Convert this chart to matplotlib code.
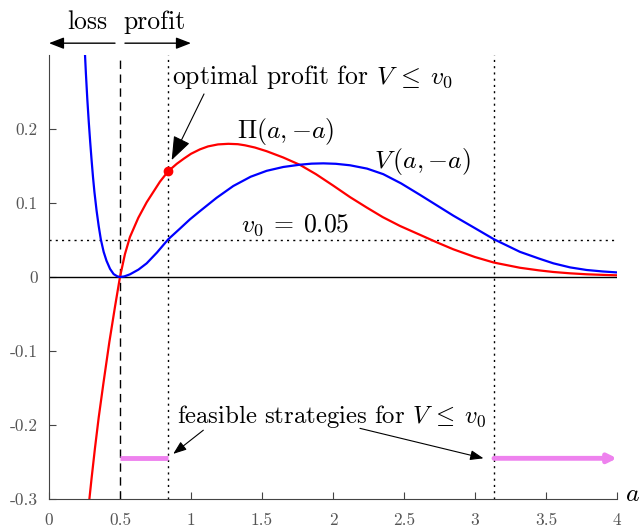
import numpy as np
import matplotlib
matplotlib.use("Agg")
import matplotlib.pyplot as plt

plt.rcParams['font.family'] = 'serif'
plt.rcParams['font.serif'] = ['cmr10', 'DejaVu Serif']
plt.rcParams['mathtext.fontset'] = 'cm'
plt.rcParams['axes.unicode_minus'] = False

# Pi(a,-a)
a_pi = [0.27, 0.284, 0.30, 0.324, 0.35, 0.383, 0.425, 0.465, 0.5, 0.535, 0.57, 0.629, 0.688,
        0.782, 0.84, 0.9, 0.95, 1.0, 1.063, 1.12, 1.19, 1.263, 1.33, 1.38, 1.45, 1.533,
        1.65, 1.768, 1.88, 2.002, 2.12, 2.237, 2.35, 2.472, 2.613, 2.73, 2.847, 3.0,
        3.134, 3.317, 3.45, 3.552, 3.67, 3.786, 3.9, 4.0]
pi_vals = [-0.328, -0.301, -0.272, -0.231, -0.19, -0.144, -0.088, -0.040, 0.0, 0.031, 0.054, 0.08, 0.101,
           0.129, 0.143, 0.153, 0.160, 0.1665, 0.1725, 0.1765, 0.1792, 0.180, 0.1795, 0.178, 0.175, 0.170,
           0.1615, 0.1515, 0.139, 0.1235, 0.108, 0.094, 0.081, 0.069, 0.057, 0.047, 0.0375, 0.027,
           0.0195, 0.0125, 0.009, 0.0068, 0.005, 0.0037, 0.0029, 0.0023]

# V(a,-a)
a_v = [0.245, 0.25, 0.26, 0.27, 0.28, 0.29, 0.30, 0.31, 0.32, 0.335, 0.35, 0.365, 0.385, 0.405,
       0.43, 0.455, 0.48, 0.5, 0.53, 0.57, 0.63, 0.688, 0.76, 0.84, 0.92, 0.993, 1.063, 1.18,
       1.298, 1.42, 1.533, 1.65, 1.768, 1.85, 1.932, 2.02, 2.12, 2.24, 2.354, 2.48, 2.613,
       2.73, 2.847, 3.0, 3.134, 3.317, 3.45, 3.552, 3.67, 3.786, 3.9, 4.0]
v_vals = [0.335, 0.315, 0.275, 0.24, 0.21, 0.183, 0.158, 0.135, 0.115, 0.09, 0.069, 0.051, 0.034, 0.022,
          0.011, 0.004, 0.001, 0.0, 0.0008, 0.0036, 0.010, 0.0185, 0.033, 0.051, 0.065, 0.078, 0.089, 0.107,
          0.123, 0.1355, 0.1435, 0.1487, 0.1518, 0.1532, 0.1536, 0.1530, 0.1510, 0.1465, 0.139, 0.1265, 0.111,
          0.097, 0.083, 0.066, 0.051, 0.034, 0.025, 0.0185, 0.013, 0.0095, 0.0075, 0.0062]

v0 = 0.05
a_break = 0.5      # loss / profit boundary
a_opt = 0.84       # V = v0 on the rising side
a_high = 3.134     # V = v0 on the falling side
pi_opt = 0.143
feas_y = -0.245

xticks = [0, 0.5, 1, 1.5, 2, 2.5, 3, 3.5, 4]
xlabels = ['0', '0.5', '1', '1.5', '2', '2.5', '3', '3.5', '4']
yticks = [-0.3, -0.2, -0.1, 0, 0.1, 0.2]
ylabels = ['-0.3', '-0.2', '-0.1', '0', '0.1', '0.2']

fig = plt.figure(figsize=(6.42, 5.27), dpi=100)
ax = fig.add_axes([0.0763, 0.0531, 0.8847, 0.8425])
ax.set_xlim(0, 4)
ax.set_ylim(-0.3, 0.3)

ax.axhline(0, color='black', lw=1)
ax.axhline(v0, color='black', lw=1, ls=(0, (1.5, 3)))
ax.axvline(a_break, color='black', lw=1, ls=(0, (6, 4)))
ax.axvline(a_opt, color='black', lw=1, ls=(0, (1.5, 3)))
ax.axvline(a_high, color='black', lw=1, ls=(0, (1.5, 3)))

ax.plot(a_pi, pi_vals, color='red', lw=1.6)
ax.plot(a_v, v_vals, color='blue', lw=1.6)
ax.plot([a_opt], [pi_opt], 'o', color='red', ms=6)

# feasible strategies
ax.plot([a_break, a_opt], [feas_y, feas_y], color='violet', lw=3.5, solid_capstyle='butt')
ax.annotate('', xy=(4.0, feas_y), xytext=(a_high, feas_y),
            arrowprops=dict(arrowstyle='-|>,head_length=0.5,head_width=0.25', color='violet',
                            lw=3.5, shrinkA=0, shrinkB=0))

ax.set_xticks(xticks)
ax.set_xticklabels(xlabels)
ax.set_yticks(yticks)
ax.set_yticklabels(ylabels)
ax.tick_params(direction='in', length=5, colors='#444444', labelsize=12.5, labelcolor='#555555')
ax.tick_params(axis='x', pad=10)
ax.tick_params(axis='y', pad=8)
for s in ['top', 'right']:
    ax.spines[s].set_visible(False)
for s in ['left', 'bottom']:
    ax.spines[s].set_color('#444444')

fs = 18.5
ax.text(4.06, -0.293, '$a$', fontsize=fs, ha='left', va='center', clip_on=False)
ax.text(1.326, 0.196, r'$\Pi(a,{-a})$', fontsize=fs, ha='left', va='center')
ax.text(2.29, 0.156, r'$V\,(a,{-a})$', fontsize=fs, ha='left', va='center')
ax.text(1.35, 0.07, r'$v_0\:=\:0.05$', fontsize=fs, ha='left', va='center')

ax.annotate(r'optimal profit for $V\:\leq\:v_0$', xy=(0.864, 0.158), xytext=(0.864, 0.27),
            fontsize=fs, ha='left', va='center',
            arrowprops=dict(arrowstyle='-|>,head_length=0.8,head_width=0.3', color='black',
                            lw=0.8, shrinkA=0, shrinkB=0, relpos=(0.12, 0)))
ax.text(0.9, -0.188, r'feasible strategies for $V\:\leq\:v_0$', fontsize=17.8, ha='left', va='center')
ax.annotate('', xy=(0.875, -0.239), xytext=(1.087, -0.207),
            arrowprops=dict(arrowstyle='-|>,head_length=0.8,head_width=0.3', color='black',
                            lw=0.8, shrinkA=0, shrinkB=0))
ax.annotate('', xy=(3.06, -0.245), xytext=(2.19, -0.2045),
            arrowprops=dict(arrowstyle='-|>,head_length=0.8,head_width=0.3', color='black',
                            lw=0.8, shrinkA=0, shrinkB=0))

# loss / profit arrows above the axes
ax.annotate('', xy=(0.0, 0.316), xytext=(0.465, 0.316), annotation_clip=False,
            arrowprops=dict(arrowstyle='-|>,head_length=0.9,head_width=0.35', color='black',
                            lw=1, shrinkA=0, shrinkB=0))
ax.annotate('', xy=(1.0, 0.316), xytext=(0.535, 0.316), annotation_clip=False,
            arrowprops=dict(arrowstyle='-|>,head_length=0.9,head_width=0.35', color='black',
                            lw=1, shrinkA=0, shrinkB=0))
ax.text(0.268, 0.345, 'loss', fontsize=fs, ha='center', va='center', clip_on=False)
ax.text(0.74, 0.345, 'profit', fontsize=fs, ha='center', va='center', clip_on=False)

fig.savefig('out.png', dpi=100)
